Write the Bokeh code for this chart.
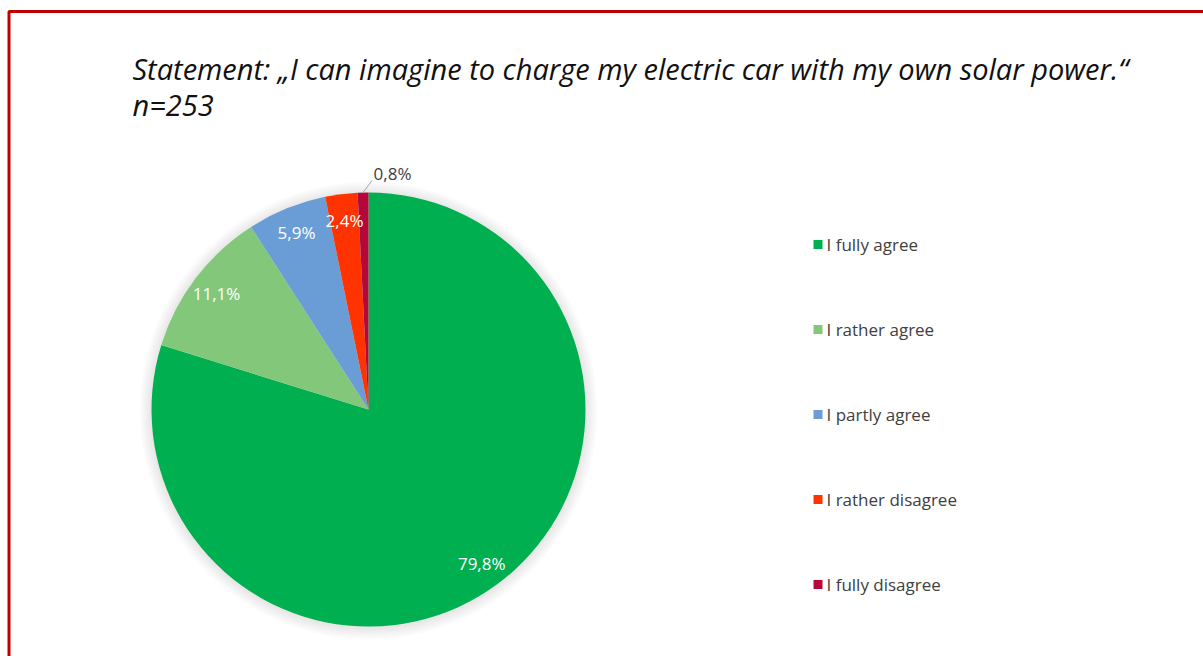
import math
from bokeh.plotting import figure
from bokeh.models import Range1d, ColumnDataSource
from bokeh.core.properties import value
from bokeh.embed import file_html
from bokeh.resources import INLINE

categories = ["I fully agree", "I rather agree", "I partly agree", "I rather disagree", "I fully disagree"]
shares = [79.8, 11.1, 5.9, 2.4, 0.8]
share_labels = ["79,8%", "11,1%", "5,9%", "2,4%", "0,8%"]
colors = ["#00B050", "#83C87A", "#6A9DD5", "#FF3300", "#B5083A"]
title_lines = ["Statement: \u201eI can imagine to charge my electric car with my own solar power.\u201c", "n=253"]

W, H = 1203, 656
p = figure(width=W, height=H, x_range=Range1d(0, W), y_range=Range1d(0, H),
           output_backend="svg", toolbar_location=None, min_border=0)
p.axis.visible = False
p.grid.visible = False
p.outline_line_color = None
p.background_fill_color = "white"
p.border_fill_color = "white"

def Y(y):
    return H - y

# red frame
p.line([8.5, 8.5, W + 5], [Y(H + 5), Y(11), Y(11)], line_color="#C00000", line_width=3)

# title
for i, t in enumerate(title_lines):
    p.text([132], [Y(68 + 36 * i)], text=[t], text_font=value("Open Sans"), text_font_style="italic",
           text_font_size="29px", text_color="#111111", text_baseline="middle", text_align="left")

cx, cy, r = 368, Y(409), 217

# soft shadow
for k in range(1, 9):
    p.circle([cx], [cy - 1], radius=r + k * 1.5, fill_color="#000000", fill_alpha=0.012, line_color=None)

total = sum(shares)
starts, ends, lx, ly, tcol = [], [], [], [], []
cum = 0.0
for i, s in enumerate(shares):
    a0 = math.pi / 2 - cum / total * 2 * math.pi
    cum += s
    a1 = math.pi / 2 - cum / total * 2 * math.pi
    starts.append(a0)
    ends.append(a1)
    mid = (a0 + a1) / 2
    rr = 0.88 * r if i < 4 else 1.10 * r
    lx.append(cx + rr * math.cos(mid) + (30 if i == 4 else 0))
    ly.append(cy + rr * math.sin(mid) + (-3 if i == 4 else 0))
    tcol.append("white" if i < 4 else "#404040")

src = ColumnDataSource(dict(start=starts, end=ends, color=colors, lx=lx, ly=ly, lab=share_labels, tc=tcol))
p.wedge(x=cx, y=cy, radius=r, start_angle="start", end_angle="end", direction="clock",
        fill_color="color", line_color=None, source=src)

# leader line for smallest slice
mid = (starts[4] + ends[4]) / 2
ex, ey = cx + r * math.cos(mid), cy + r * math.sin(mid)
p.line([ex, ex + 9], [ey, ey + 12], line_color="#A6A6A6", line_width=1)

p.text(x="lx", y="ly", text="lab", text_color="tc", text_font=value("Open Sans"), text_font_size="17px",
       text_align="center", text_baseline="middle", source=src)

# legend
ley = [Y(244 + 85 * i) for i in range(len(categories))]
p.rect(x=[817.5] * len(categories), y=ley, width=9, height=9, fill_color=colors, line_color=None)
p.text(x=[826] * len(categories), y=ley, text=categories, text_font=value("Open Sans"), text_font_size="17px",
       text_color="#404040", text_align="left", text_baseline="middle")

open("out.html", "w").write(file_html(p, INLINE))
